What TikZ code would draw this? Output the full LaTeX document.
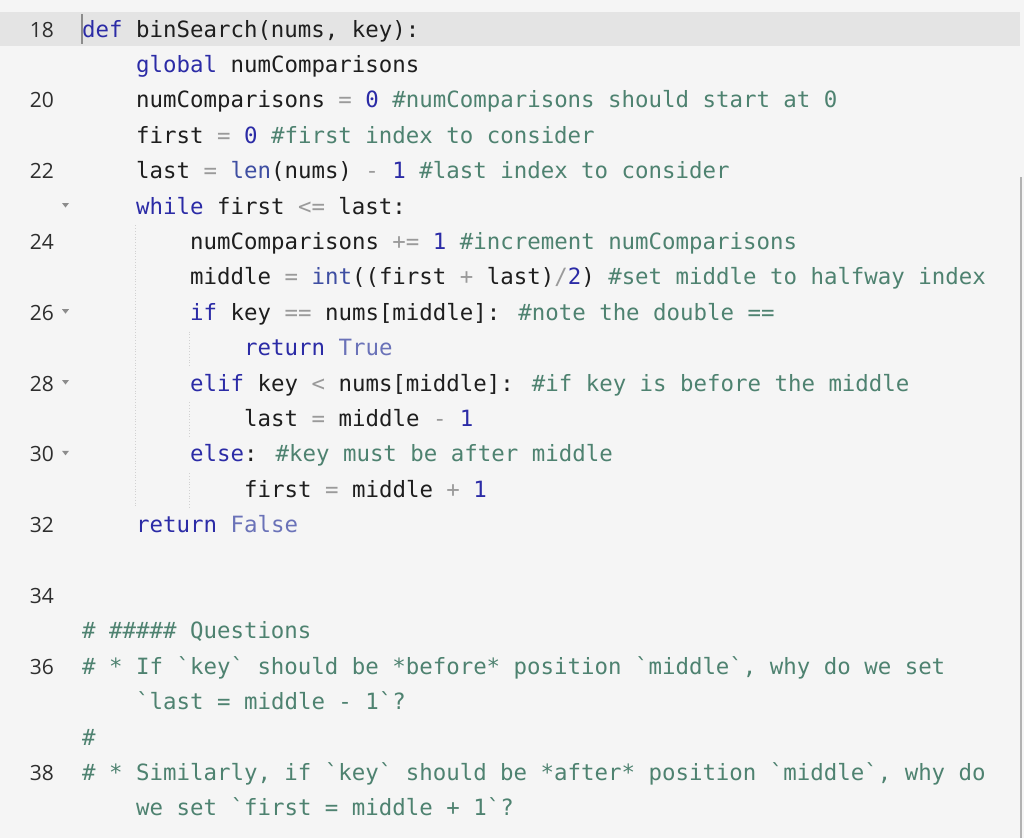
\documentclass[tikz,border=0pt]{standalone}
\usepackage{fontspec}
\newfontfamily\codef{DejaVu Sans Mono}
\newfontfamily\numf{Open Sans}
\definecolor{bg}{HTML}{F5F5F5}
\definecolor{hl}{HTML}{E4E4E4}
\definecolor{kw}{HTML}{2B2BA6}
\definecolor{cm}{HTML}{4E8270}
\definecolor{op}{HTML}{9A9A9A}
\definecolor{fn}{HTML}{3E4EA2}
\definecolor{cst}{HTML}{6A72B8}
\definecolor{tx}{HTML}{1E1E1E}
\definecolor{lnc}{HTML}{2E2E2E}
\newcommand{\K}[1]{\textcolor{kw}{#1}}
\newcommand{\C}[1]{\textcolor{cm}{#1}}
\newcommand{\Op}[1]{\textcolor{op}{#1}}
\newcommand{\F}[1]{\textcolor{fn}{#1}}
\newcommand{\Cs}[1]{\textcolor{cst}{#1}}
\tikzset{
 codetext/.style={anchor=base west,inner sep=0pt,font=\codef\fontsize{22.4}{26}\selectfont,text=tx},
 lnum/.style={anchor=base east,inner sep=0pt,font=\numf\fontsize{21}{25}\selectfont,text=lnc},
 guide/.style={draw=black!18,dotted,line width=0.8pt},
 fold/.style={fill=black!45,draw=none}
}
\newcommand{\rowy}[1]{37+35.4*#1}
\newcommand{\lnum}[3]{\node[lnum] (n#1) at (54,{37+35.4*#2}) {#1};}
\newcommand{\codeline}[4]{\node[codetext] (c#1) at ({82+13.5*#3},{37+35.4*#2}) {#4};}
\newcommand{\foldmark}[2]{\fill[fold] (62,{29+35.4*#2-3}) -- (69,{29+35.4*#2-3}) -- (65.5,{29+35.4*#2+1.5}) -- cycle;}
\begin{document}
\begin{tikzpicture}[x=1pt,y=-1pt]
\fill[bg] (0,0) rectangle (1024,838);
\useasboundingbox (0,0) rectangle (1024,838);
\fill[hl] (0,12) rectangle (1020,46);
\draw[black!45,line width=1.2pt] (82,14) -- (82,44);
\draw[black!30,line width=1.5pt] (1021,177) -- (1021,838);
% indent guides
\draw[guide] (135,{37+35.4*6-24}) -- (135,{37+35.4*13+10});
\draw[guide] (189,{37+35.4*9-24}) -- (189,{37+35.4*9+10});
\draw[guide] (189,{37+35.4*11-24}) -- (189,{37+35.4*11+10});
\draw[guide] (189,{37+35.4*13-24}) -- (189,{37+35.4*13+10});
% line numbers
\lnum{18}{0}\lnum{19}{1}\lnum{20}{2}\lnum{21}{3}\lnum{22}{4}\lnum{23}{5}
\lnum{24}{6}\lnum{25}{7}\lnum{26}{8}\lnum{27}{9}\lnum{28}{10}\lnum{29}{11}
\lnum{30}{12}\lnum{31}{13}\lnum{32}{14}\lnum{33}{15}\lnum{34}{16}\lnum{35}{17}
\lnum{36}{18}\lnum{37}{20}\lnum{38}{21}
\foldmark{18}{0}\foldmark{23}{5}\foldmark{26}{8}\foldmark{28}{10}\foldmark{30}{12}
% code
\codeline{18}{0}{0}{\K{def} binSearch(nums, key):}
\codeline{19}{1}{4}{\K{global} numComparisons}
\codeline{20}{2}{4}{numComparisons \Op{=} \K{0} \C{\#numComparisons should start at 0}}
\codeline{21}{3}{4}{first \Op{=} \K{0} \C{\#first index to consider}}
\codeline{22}{4}{4}{last \Op{=} \F{len}(nums) \Op{-} \K{1} \C{\#last index to consider}}
\codeline{23}{5}{4}{\K{while} first \Op{<=} last:}
\codeline{24}{6}{8}{numComparisons \Op{+=} \K{1} \C{\#increment numComparisons}}
\codeline{25}{7}{8}{middle \Op{=} \F{int}((first \Op{+} last)\Op{/}\K{2}) \C{\#set middle to halfway index}}
\codeline{26}{8}{8}{\K{if} key \Op{==} nums[middle]: \C{\#note the double ==}}
\codeline{27}{9}{12}{\K{return} \Cs{True}}
\codeline{28}{10}{8}{\K{elif} key \Op{<} nums[middle]: \C{\#if key is before the middle}}
\codeline{29}{11}{12}{last \Op{=} middle \Op{-} \K{1}}
\codeline{30}{12}{8}{\K{else}: \C{\#key must be after middle}}
\codeline{31}{13}{12}{first \Op{=} middle \Op{+} \K{1}}
\codeline{32}{14}{4}{\K{return} \Cs{False}}
\codeline{35}{17}{0}{\C{\# \#\#\#\#\# Questions}}
\codeline{36}{18}{0}{\C{\# * If `key` should be *before* position `middle`, why do we set}}
\codeline{36b}{19}{4}{\C{`last = middle - 1`?}}
\codeline{37}{20}{0}{\C{\#}}
\codeline{38}{21}{0}{\C{\# * Similarly, if `key` should be *after* position `middle`, why do}}
\codeline{38b}{22}{4}{\C{we set `first = middle + 1`?}}
\end{tikzpicture}
\end{document}
